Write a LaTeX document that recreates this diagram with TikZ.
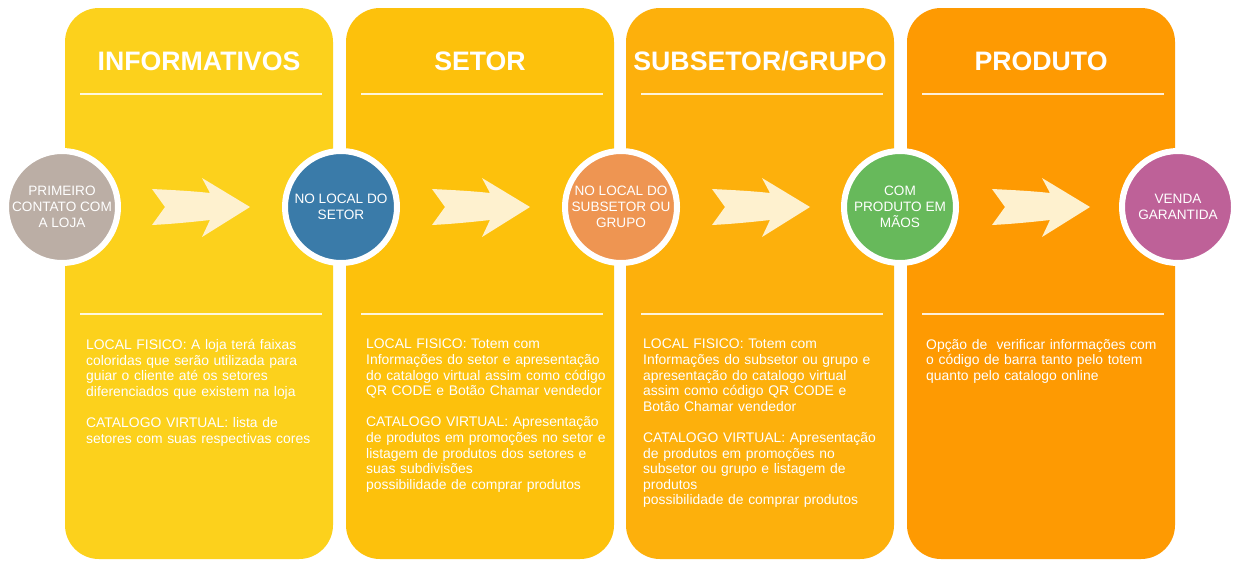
\documentclass[tikz,border=0pt]{standalone}
\usepackage{fontspec}
\setmainfont{Liberation Sans}
\definecolor{pA}{HTML}{FCD11C}
\definecolor{pB}{HTML}{FDC10C}
\definecolor{pC}{HTML}{FDB00C}
\definecolor{pD}{HTML}{FE9A02}
\definecolor{cGray}{HTML}{BBAEA5}
\definecolor{cBlue}{HTML}{3A7BA9}
\definecolor{cOrange}{HTML}{EE9552}
\definecolor{cGreen}{HTML}{67B95B}
\definecolor{cPurple}{HTML}{BE6198}
\definecolor{cream}{HTML}{FEF1CF}
\begin{document}
\begin{tikzpicture}[x=1pt,y=-1pt,
  panel/.style={rectangle, rounded corners=34pt, minimum width=268pt, minimum height=551pt, inner sep=0pt, draw=none},
  ttl/.style={anchor=base, text=white, inner sep=0pt, font=\fontsize{26.7}{30}\selectfont\bfseries},
  sep/.style={draw=white, line width=2pt, opacity=0.85},
  body/.style={anchor=north west, text=white, inner sep=0pt, text width=275pt, align=left, font=\fontsize{13.9}{15.6}\selectfont},
  stage/.style={circle, draw=white, line width=6pt, minimum size=112pt, inner sep=0pt, text=white, align=center, font=\fontsize{13.6}{15.7}\selectfont},
  flowarrow/.pic={\fill[cream] (0,-18) -- (13,0) -- (0,18) .. controls (20,17) and (40,15) .. (58,13) -- (50,30) -- (98,0) -- (50,-29) -- (58,-14) .. controls (40,-16) and (20,-17) .. (0,-18) -- cycle;}
]
\useasboundingbox[fill=white] (0,0) rectangle (1241,568);

% panels
\node[panel, fill=pA] (p1) at (199,283.5) {};
\node[panel, fill=pB] (p2) at (480,283.5) {};
\node[panel, fill=pC] (p3) at (760,283.5) {};
\node[panel, fill=pD] (p4) at (1041,283.5) {};

% titles
\node[ttl] (t1) at (199,70.5) {INFORMATIVOS};
\node[ttl] (t2) at (480,70.5) {SETOR};
\node[ttl] (t3) at (760,70.5) {SUBSETOR/GRUPO};
\node[ttl] (t4) at (1041,70.5) {PRODUTO};

% separator rules
\foreach \a/\b in {80/322, 361/603, 641/883, 922/1164}{
  \draw[sep] (\a,94) -- (\b,94);
  \draw[sep] (\a,314) -- (\b,314);
}

% body texts
\node[body] (b1) at (86,339) {LOCAL FISICO: A loja terá faixas\\
coloridas que serão utilizada para\\
guiar o cliente até os setores\\
diferenciados que existem na loja\\[15.6pt]
CATALOGO VIRTUAL: lista de\\
setores com suas respectivas cores};

\node[body] (b2) at (366,339) {LOCAL FISICO: Totem com\\
Informações do setor e apresentação\\
do catalogo virtual assim como código\\
QR CODE e Botão Chamar vendedor\\[15.6pt]
CATALOGO VIRTUAL: Apresentação\\
de produtos em promoções no setor e\\
listagem de produtos dos setores e\\
suas subdivisões\\
possibilidade de comprar produtos};

\node[body] (b3) at (643,339) {LOCAL FISICO: Totem com\\
Informações do subsetor ou grupo e\\
apresentação do catalogo virtual\\
assim como código QR CODE e\\
Botão Chamar vendedor\\[15.6pt]
CATALOGO VIRTUAL: Apresentação\\
de produtos em promoções no\\
subsetor ou grupo e listagem de\\
produtos\\
possibilidade de comprar produtos};

\node[body] (b4) at (926,339) {Opção de~ verificar informações com\\
o código de barra tanto pelo totem\\
quanto pelo catalogo online};

% arrows
\pic (a1) at (152,207) {flowarrow};
\pic (a2) at (432,207) {flowarrow};
\pic (a3) at (712,207) {flowarrow};
\pic (a4) at (992,207) {flowarrow};

% stage circles
\node[stage, fill=cGray] (c1) at (62,207) {PRIMEIRO\\CONTATO COM\\A LOJA};
\node[stage, fill=cBlue] (c2) at (341,207) {NO LOCAL DO\\SETOR};
\node[stage, fill=cOrange] (c3) at (621,207) {NO LOCAL DO\\SUBSETOR OU\\GRUPO};
\node[stage, fill=cGreen] (c4) at (900,207) {COM\\PRODUTO EM\\MÃOS};
\node[stage, fill=cPurple] (c5) at (1178,207) {VENDA\\GARANTIDA};
\end{tikzpicture}
\end{document}
